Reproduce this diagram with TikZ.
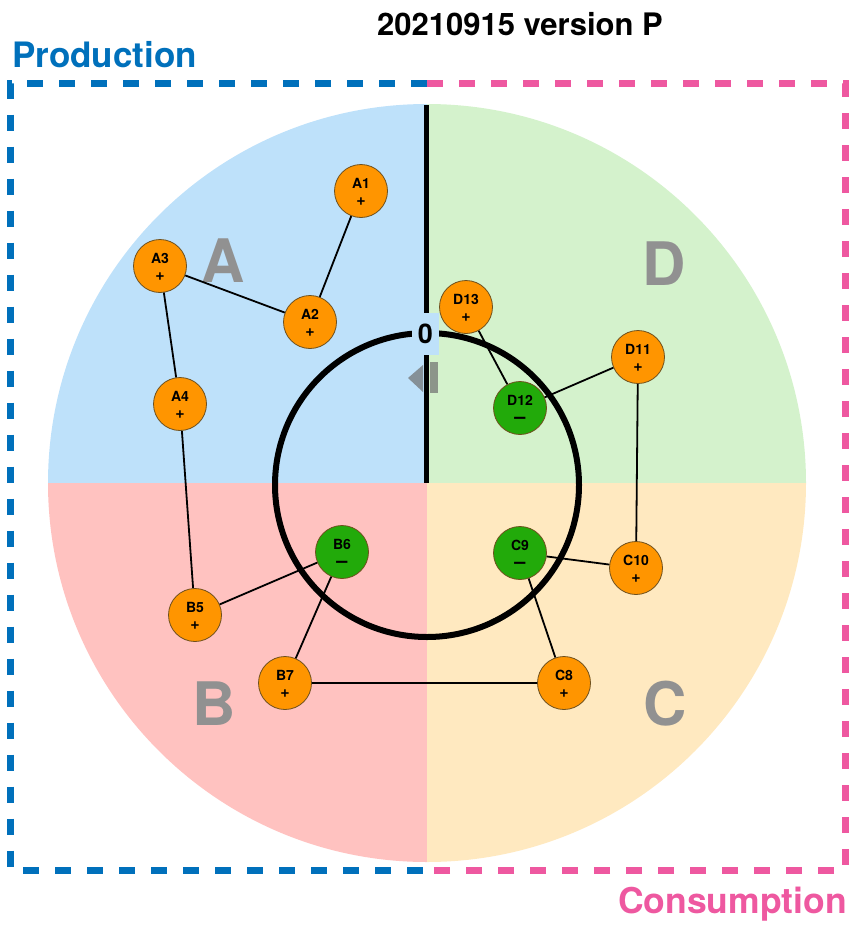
\documentclass[tikz,border=0pt]{standalone}
\usepackage{fontspec}
\setmainfont{TeX Gyre Heros}
\definecolor{qblue}{RGB}{190,225,250}
\definecolor{qgreen}{RGB}{212,242,204}
\definecolor{qpink}{RGB}{255,194,192}
\definecolor{qyellow}{RGB}{255,233,192}
\definecolor{nodeorange}{RGB}{255,149,0}
\definecolor{nodegreen}{RGB}{34,170,10}
\definecolor{nodeedge}{RGB}{110,80,30}
\definecolor{prodblue}{RGB}{0,112,187}
\definecolor{conspink}{RGB}{238,88,160}
\definecolor{lettergray}{RGB}{145,145,145}
\definecolor{markgray}{RGB}{110,110,110}
\tikzset{
  pnode/.style={circle, fill=nodeorange, draw=nodeedge, line width=0.8pt,
    minimum size=53pt, inner sep=0pt},
  nnode/.style={pnode, fill=nodegreen},
  lbl/.style={yshift=7.5pt, inner sep=0pt, font=\bfseries\fontsize{14}{16}\selectfont},
  sgn/.style={yshift=-10.5pt, inner sep=0pt, font=\bfseries\fontsize{16}{16}\selectfont},
  neg/.style={yshift=-12pt, inner sep=0pt, font=\bfseries\fontsize{20}{20}\selectfont},
  link/.style={draw=black, line width=1.8pt},
  frame/.style={line width=7pt, dash pattern=on 16pt off 16pt},
  quad/.style={text=lettergray, font=\bfseries\fontsize{60}{60}\selectfont, inner sep=0pt},
}
% a charge node: style, name, position, label, sign style, sign
\newcommand\chargenode[6]{%
  \node[#1, label={[lbl]center:#4}, label={[#5]center:#6}] (#2) at (#3) {};}
\begin{document}
\begin{tikzpicture}[x=1pt, y=-1pt]
\useasboundingbox (0,0) rectangle (851,926);

% four quadrants of the disc
\begin{scope}
  \clip (427,483) circle[radius=379];
  \fill[qblue]   (0,0)     rectangle (427,483);
  \fill[qgreen]  (427,0)   rectangle (851,483);
  \fill[qpink]   (0,483)   rectangle (427,926);
  \fill[qyellow] (427,483) rectangle (851,926);
\end{scope}

% dashed frame: production half and consumption half
\draw[frame, draw=prodblue]  (427,83) -- (10.5,83) -- (10.5,870) -- (427,870);
\draw[frame, draw=conspink]  (427,83) -- (845,83) -- (845,870) -- (427,870);

% axis and inner ring
\coordinate (top) at (426.5,105);
\coordinate (mid) at (426.5,483);
\draw[line width=5pt] (top) -- (mid);
\draw[line width=6pt] (427,485) circle[radius=152];

% zero marker
\node[fill=qblue, minimum width=27pt, minimum height=42pt, inner sep=0pt,
      font=\bfseries\fontsize{27}{27}\selectfont] (zero) at (425.5,334) {0};
\fill[markgray, opacity=0.7] (408,378) -- (423,365) -- (423,392) -- cycle;
\fill[markgray, opacity=0.7] (430,362) rectangle (438,393);

% quadrant letters
\node[quad] (qa) at (223,261) {A};
\node[quad] (qd) at (664,264) {D};
\node[quad] (qb) at (214,704) {B};
\node[quad] (qc) at (665,704) {C};

% charge nodes
\chargenode{pnode}{A1}{361,191}{A1}{sgn}{+}
\chargenode{pnode}{A2}{310,322}{A2}{sgn}{+}
\chargenode{pnode}{A3}{160,266}{A3}{sgn}{+}
\chargenode{pnode}{A4}{180,404}{A4}{sgn}{+}
\chargenode{pnode}{B5}{195,615}{B5}{sgn}{+}
\chargenode{nnode}{B6}{342,552}{B6}{neg}{–}
\chargenode{pnode}{B7}{285,683}{B7}{sgn}{+}
\chargenode{pnode}{C8}{564,683}{C8}{sgn}{+}
\chargenode{nnode}{C9}{520,553}{C9}{neg}{–}
\chargenode{pnode}{C10}{636,568}{C10}{sgn}{+}
\chargenode{pnode}{D11}{638,357}{D11}{sgn}{+}
\chargenode{nnode}{D12}{520,408}{D12}{neg}{–}
\chargenode{pnode}{D13}{466,307}{D13}{sgn}{+}

% chain of links between the nodes
\path[link] (A1) -- (A2) (A2) -- (A3) (A3) -- (A4) (A4) -- (B5)
  (B5) -- (B6) (B6) -- (B7) (B7) -- (C8) (C8) -- (C9) (C9) -- (C10)
  (C10) -- (D11) (D11) -- (D12) (D12) -- (D13);

% titles
\node[anchor=base, inner sep=0pt, font=\bfseries\fontsize{31}{31}\selectfont] (title)
  at (520,35) {20210915 version P};
\node[anchor=base west, inner sep=0pt, text=prodblue,
      font=\bfseries\fontsize{35}{35}\selectfont] (prod) at (12,67) {Production};
\node[anchor=base east, inner sep=0pt, text=conspink,
      font=\bfseries\fontsize{35.5}{35.5}\selectfont] (cons) at (847,913) {Consumption};
\end{tikzpicture}
\end{document}
